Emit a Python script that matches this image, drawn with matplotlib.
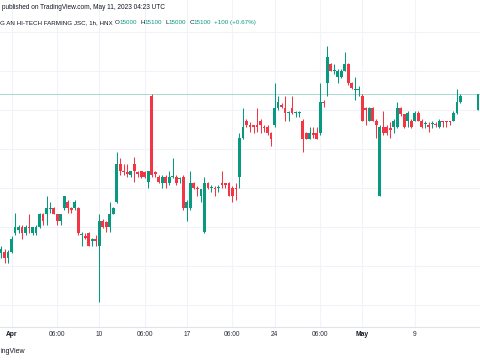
import numpy as np
import matplotlib.pyplot as plt

plt.rcParams['font.family'] = ['Liberation Sans', 'DejaVu Sans']

nan = np.nan

# hourly candles (the 4 nan bars are the empty gap before the last bar)
opens = [
    14080, 14090, 14050, 14090, 14210, 14230, 14250, 14210, 14250, 14210,
    14210, 14250, 14330, 14330, 14370, 14370, 14330, 14290, 14370, 14410,
    14370, 14370, 14370, 14200, 14190, 14210, 14160, 14170, 14130, 14290,
    14280, 14250, 14330, 14410, 14650, 14610, 14600, 14580, 14650, 14600,
    14610, 14600, 14540, 15090, 14600, 14570, 14530, 14570, 14530, 14570,
    14570, 14560, 14570, 14370, 14370, 14530, 14500, 14450, 14220, 14530,
    14500, 14500, 14500, 14530, 14530, 14530, 14500, 14500, 14570, 14820,
    14930, 14900, 14900, 14900, 14930, 14890, 14890, 14850, 14900, 15010,
    15030, 15010, 14980, 15010, 14980, 14980, 14930, 14850, 14810, 14850,
    14850, 14850, 15050, 15170, 15290, 15250, 15210, 15210, 15250, 15290,
    15170, 15130, 15130, 15090, 15010, 14930, 15010, 14930, 14450, 14890,
    14890, 14880, 14890, 14890, 15010, 14970, 14930, 14930, 14930, 14980,
    14930, 14910, 14900, 14910, 14910, 14890, 14930, 14930, 14930, 14930,
    14980, 15050, nan, nan, nan, nan, 15000,
]
highs = [
    14130, 14110, 14100, 14190, 14340, 14260, 14260, 14260, 14330, 14250,
    14260, 14340, 14340, 14450, 14410, 14380, 14330, 14330, 14450, 14420,
    14380, 14420, 14380, 14220, 14210, 14220, 14180, 14200, 14330, 14300,
    14290, 14410, 14380, 14730, 14690, 14650, 14650, 14610, 14700, 14610,
    14610, 14610, 14610, 15100, 14610, 14580, 14580, 14580, 14610, 14690,
    14580, 14570, 14580, 14420, 14610, 14540, 14510, 14490, 14570, 14540,
    14520, 14510, 14520, 14610, 14530, 14540, 14510, 14530, 14850, 15010,
    14940, 14920, 14900, 15010, 14940, 14900, 14900, 14860, 15170, 15090,
    15040, 15090, 14990, 15090, 14990, 14990, 14940, 14860, 14890, 14890,
    14890, 15170, 15060, 15410, 15300, 15290, 15260, 15260, 15370, 15300,
    15180, 15210, 15150, 15100, 15020, 15020, 15020, 14940, 14900, 14990,
    14900, 14920, 14940, 15050, 15020, 14970, 14990, 14940, 14990, 14990,
    14940, 14930, 14920, 14930, 14920, 14940, 14930, 14930, 14930, 14990,
    15130, 15100, nan, nan, nan, nan, 15100,
]
lows = [
    14050, 14020, 14020, 14080, 14200, 14210, 14170, 14200, 14210, 14200,
    14200, 14240, 14260, 14260, 14340, 14330, 14260, 14260, 14360, 14340,
    14340, 14360, 14200, 14130, 14170, 14130, 14130, 14130, 13770, 14240,
    14220, 14220, 14330, 14400, 14580, 14580, 14570, 14570, 14540, 14570,
    14560, 14560, 14500, 14570, 14570, 14530, 14500, 14500, 14520, 14560,
    14520, 14530, 14360, 14290, 14360, 14490, 14450, 14410, 14210, 14490,
    14470, 14450, 14470, 14500, 14500, 14450, 14410, 14420, 14500, 14810,
    14890, 14860, 14850, 14860, 14850, 14860, 14840, 14770, 14890, 15000,
    15010, 14930, 14930, 14970, 14950, 14950, 14730, 14810, 14810, 14820,
    14810, 14840, 15020, 15090, 15250, 15230, 15170, 15200, 15250, 15160,
    15130, 15060, 15090, 14930, 14900, 14930, 14930, 14820, 14450, 14840,
    14840, 14820, 14850, 14880, 14960, 14880, 14890, 14880, 14930, 14930,
    14880, 14880, 14860, 14880, 14890, 14880, 14890, 14890, 14900, 14930,
    14970, 15040, nan, nan, nan, nan, 15000,
]
closes = [
    14110, 14050, 14090, 14170, 14250, 14250, 14210, 14250, 14240, 14250,
    14250, 14330, 14290, 14370, 14370, 14330, 14290, 14330, 14450, 14370,
    14360, 14410, 14210, 14200, 14180, 14130, 14170, 14160, 14290, 14250,
    14250, 14330, 14370, 14650, 14610, 14600, 14590, 14610, 14610, 14590,
    14570, 14570, 14610, 14580, 14590, 14540, 14570, 14530, 14570, 14570,
    14530, 14560, 14370, 14410, 14530, 14500, 14490, 14490, 14530, 14500,
    14500, 14490, 14500, 14520, 14520, 14450, 14450, 14490, 14820, 14890,
    14900, 14890, 14890, 14890, 14900, 14880, 14850, 14810, 15010, 15050,
    15020, 14980, 14980, 14980, 14980, 14980, 14810, 14810, 14850, 14840,
    14810, 15050, 15040, 15340, 15250, 15250, 15250, 15250, 15290, 15170,
    15140, 15130, 15130, 14930, 15000, 15010, 14930, 14900, 14890, 14850,
    14850, 14870, 14930, 15010, 14970, 14890, 14980, 14890, 14980, 14930,
    14890, 14910, 14890, 14910, 14900, 14930, 14920, 14920, 14920, 14980,
    15050, 15090, nan, nan, nan, nan, 15100,
]

tick_pos = [3, 16, 28, 41, 53, 66, 78, 91, 103, 118]
tick_labels = ['Apr', '06:00', '10', '06:00', '17', '06:00', '24', '06:00', 'May', '9']
grid_prices = [13750, 14000, 14250, 14500, 14750, 15000, 15250, 15500]
last_price = 15100

up_color = '#089981'
down_color = '#f23645'
text_color = '#131722'
grid_color = '#f0f3fa'


def main():
    o = np.array(opens, dtype=float)
    h = np.array(highs, dtype=float)
    l = np.array(lows, dtype=float)
    c = np.array(closes, dtype=float)
    idx = np.arange(len(o))
    ok = ~np.isnan(o)

    colors = np.where(c >= o, up_color, down_color)

    fig = plt.figure(figsize=(4.8, 3.6), dpi=100)
    ax = fig.add_axes([0, 33 / 360, 1, 327 / 360])

    # wicks and bodies
    ax.vlines(idx[ok], l[ok], h[ok], colors=colors[ok], linewidth=0.75, zorder=3)
    size = np.abs(c - o)
    mid = (o + c) / 2
    body_h = np.maximum(size, 6)
    body_bottom = np.where(size < 6, mid - 3, np.minimum(o, c))
    ax.bar(idx[ok], body_h[ok], bottom=body_bottom[ok], width=0.8,
           color=colors[ok], linewidth=0, zorder=4)

    # last price line
    ax.axhline(last_price, color=up_color, alpha=0.35, linewidth=0.7, zorder=2)

    ax.set_xlim(-0.285, 136.58)
    ax.set_ylim(13608.8, 15701.6)

    ax.set_yticks(grid_prices)
    ax.set_xticks(tick_pos)
    ax.set_xticklabels(tick_labels)
    ax.grid(True, color=grid_color, linewidth=0.8, zorder=0)
    ax.tick_params(axis='y', left=False, labelleft=False)
    ax.tick_params(axis='x', length=0, pad=3.2, labelsize=4.8, labelcolor='#2a2e39')
    for lab in ax.get_xticklabels():
        if lab.get_text() in ('Apr', 'May'):
            lab.set_fontweight('bold')
            lab.set_color(text_color)

    for side in ('top', 'left', 'right'):
        ax.spines[side].set_visible(False)
    ax.spines['bottom'].set_color('#e0e3eb')
    ax.spines['bottom'].set_linewidth(0.8)

    # header texts
    fig.text(2 / 480, 1 - 7.5 / 360, 'published on TradingView.com, May 11, 2023 04:23 UTC',
             fontsize=4.7, color=text_color, va='center', ha='left')
    fig.text(0.5 / 480, 1 - 22.5 / 360, 'G AN HI-TECH FARMING JSC, 1h, HNX',
             fontsize=4.5, color=text_color, va='center', ha='left')

    # OHLC legend, each piece chained after the previous one: (text, colour, gap in points)
    pieces = [('15000', up_color, 0), ('H', text_color, 2.2), ('15100', up_color, 0),
              ('L', text_color, 2.2), ('15000', up_color, 0), ('C', text_color, 2.2),
              ('15100', up_color, 0), ('+100 (+0.67%)', up_color, 2.2)]
    prev = fig.text(115 / 480, 1 - 22.5 / 360, 'O', fontsize=4.5, color=text_color,
                    va='center', ha='left')
    for txt, col, gap in pieces:
        prev = ax.annotate(txt, xy=(1, 0), xycoords=prev, xytext=(gap, 0),
                           textcoords='offset points', va='bottom', ha='left',
                           fontsize=4.5, color=col, annotation_clip=False)

    fig.text(0.5 / 480, 1 - 351.5 / 360, 'ingView', fontsize=5, color=text_color,
             va='center', ha='left')

    fig.savefig('out.png', dpi=100)


if __name__ == "__main__":
    main()
